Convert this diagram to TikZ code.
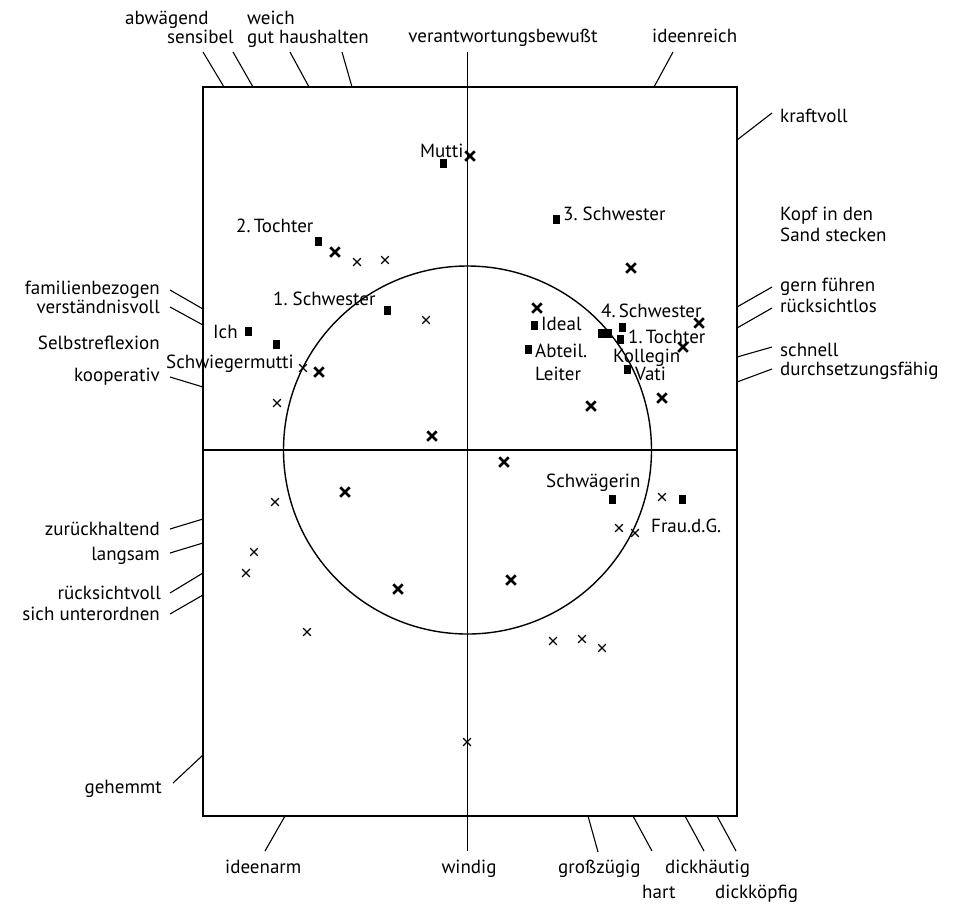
\documentclass[tikz,border=0pt]{standalone}
\usepackage{fontspec}
\setmainfont{PT Sans}
\usetikzlibrary{shapes.misc}
\begin{document}
\begin{tikzpicture}[x=1pt,y=-1pt,
  lbl/.style={inner sep=0pt, font=\fontsize{19}{19}\selectfont},
  lw/.style={lbl, anchor=base west},
  le/.style={lbl, anchor=base east},
  tick/.style={line width=1.1pt},
  frame/.style={line width=1.6pt},
  sq/.style={fill=black, minimum width=7pt, minimum height=9pt, inner sep=0pt},
  thinx/.style={cross out, draw, minimum size=6.5pt, inner sep=0pt, line width=1.2pt},
  boldx/.style={cross out, draw, minimum size=7pt, inner sep=0pt, line width=2.5pt}
]
\useasboundingbox (0,0) rectangle (956,903);

% frame, axes and circle
\draw[frame] (203,87) rectangle (737,816);
\coordinate (vtop) at (467.5,52);
\coordinate (vbot) at (467.5,851);
\coordinate (hleft) at (203,450);
\coordinate (hright) at (737,450);
\draw[frame] (vtop) -- (vbot);
\draw[frame] (hleft) -- (hright);
\coordinate (ctr) at (467.5,450);
\draw[line width=1.4pt] (ctr) circle[radius=184];

% top labels
\node[lw] (abw) at (125,24) {abwägend};
\node[lw] (sens) at (167,43) {sensibel};
\node[lw] (weich) at (247,24) {weich};
\node[lw] (guth) at (247,43) {gut haushalten};
\node[lbl, anchor=base] (verant) at (503,42) {verantwortungsbewußt};
\node[lw] (ideen) at (652,42) {ideenreich};

\coordinate (abwA) at (203,52);   \coordinate (abwB) at (224,87);
\coordinate (sensA) at (233,52);  \coordinate (sensB) at (253,87);
\coordinate (weichA) at (290,52); \coordinate (weichB) at (309,87);
\coordinate (guthA) at (342,52);  \coordinate (guthB) at (352,87);
\coordinate (ideenA) at (673,52); \coordinate (ideenB) at (654,87);
\draw[tick] (abwA) -- (abwB);
\draw[tick] (sensA) -- (sensB);
\draw[tick] (weichA) -- (weichB);
\draw[tick] (guthA) -- (guthB);
\draw[tick] (ideenA) -- (ideenB);

% right labels
\node[lw] (kraft) at (780,122) {kraftvoll};
\node[lw] (kopf) at (780,220) {Kopf in den};
\node[lw] (sand) at (780,241) {Sand stecken};
\node[lw] (gern) at (780,291) {gern führen};
\node[lw] (rlos) at (780,312) {rücksichtlos};
\node[lw] (schn) at (780,356) {schnell};
\node[lw] (durch) at (780,375) {durchsetzungsfähig};

\coordinate (kraftA) at (772,113); \coordinate (kraftB) at (737,140);
\coordinate (gernA) at (772,287);  \coordinate (gernB) at (737,307);
\coordinate (rlosA) at (772,308);  \coordinate (rlosB) at (737,328);
\coordinate (schnA) at (772,347);  \coordinate (schnB) at (737,357);
\coordinate (durchA) at (772,369); \coordinate (durchB) at (737,382);
\draw[tick] (kraftA) -- (kraftB);
\draw[tick] (gernA) -- (gernB);
\draw[tick] (rlosA) -- (rlosB);
\draw[tick] (schnA) -- (schnB);
\draw[tick] (durchA) -- (durchB);

% left labels
\node[le] (fam) at (160,294) {familienbezogen};
\node[le] (verst) at (160,313) {verständnisvoll};
\node[le] (selbst) at (160,349) {Selbstreflexion};
\node[le] (koop) at (160,381) {kooperativ};
\node[le] (zur) at (160,535) {zurückhaltend};
\node[le] (lang) at (160,560) {langsam};
\node[le] (rsv) at (161,599) {rücksichtvoll};
\node[le] (sich) at (160,620) {sich unterordnen};
\node[le] (geh) at (162,793) {gehemmt};

\coordinate (famA) at (170,290);  \coordinate (famB) at (203,309);
\coordinate (verstA) at (170,307);\coordinate (verstB) at (203,325);
\coordinate (koopA) at (170,377); \coordinate (koopB) at (203,387);
\coordinate (zurA) at (170,529);  \coordinate (zurB) at (203,519);
\coordinate (langA) at (170,553); \coordinate (langB) at (203,543);
\coordinate (rsvA) at (170,593);  \coordinate (rsvB) at (203,573);
\coordinate (sichA) at (170,614); \coordinate (sichB) at (203,595);
\coordinate (gehA) at (173,783);  \coordinate (gehB) at (203,755);
\draw[tick] (famA) -- (famB);
\draw[tick] (verstA) -- (verstB);
\draw[tick] (koopA) -- (koopB);
\draw[tick] (zurA) -- (zurB);
\draw[tick] (langA) -- (langB);
\draw[tick] (rsvA) -- (rsvB);
\draw[tick] (sichA) -- (sichB);
\draw[tick] (gehA) -- (gehB);

% bottom labels
\node[lw] (iarm) at (225,873) {ideenarm};
\node[lbl, anchor=base] (wind) at (469,873) {windig};
\node[lw] (gross) at (558,873) {großzügig};
\node[lw] (dickh) at (665,873) {dickhäutig};
\node[lw] (hart) at (642,898) {hart};
\node[lw] (dickk) at (715,898) {dickköpfig};

\coordinate (iarmA) at (265,851);  \coordinate (iarmB) at (285,816);
\coordinate (grossA) at (598,852); \coordinate (grossB) at (588,816);
\coordinate (hartA) at (652,851);  \coordinate (hartB) at (633,816);
\coordinate (dickhA) at (704,851); \coordinate (dickhB) at (685,816);
\coordinate (dickkA) at (736,851); \coordinate (dickkB) at (717,816);
\draw[tick] (iarmA) -- (iarmB);
\draw[tick] (grossA) -- (grossB);
\draw[tick] (hartA) -- (hartB);
\draw[tick] (dickhA) -- (dickhB);
\draw[tick] (dickkA) -- (dickkB);

% persons
\node[lw] (tMutti) at (420,157) {Mutti};
\node[sq] (sMutti) at (443,163) {};
\node[lw] (tTo2) at (236,232) {2.\,Tochter};
\node[sq] (sTo2) at (318,241) {};
\node[lw] (tSw3) at (563,220) {3.~Schwester};
\node[sq] (sSw3) at (556,219) {};
\node[lw] (tSw1) at (273,305) {1.~Schwester};
\node[sq] (sSw1) at (387,310) {};
\node[lw] (tIch) at (213,338) {Ich};
\node[sq] (sIch) at (248,331) {};
\node[lw] (tSchwm) at (166,368) {Schwiegermutti};
\node[sq] (sSchwm) at (276,344) {};
\node[lw] (tIdeal) at (541,330) {Ideal};
\node[sq] (sIdeal) at (534,325) {};
\node[lw] (tAbt) at (535,357) {Abteil.};
\node[lw] (tLeit) at (535,380) {Leiter};
\node[sq] (sAbt) at (528,349) {};
\node[sq] (sPairA) at (601,333) {};
\node[sq] (sPairB) at (608,333) {};
\node[lw] (tSw4) at (601,317) {4.\,Schwester};
\node[sq] (sSw4) at (622,327) {};
\node[lw] (tTo1) at (628,343) {1.\,Tochter};
\node[sq] (sTo1) at (620,339) {};
\node[lw] (tKoll) at (613,362) {Kollegin};
\node[lw] (tVati) at (635,380) {Vati};
\node[sq] (sVati) at (627,369) {};
\node[lw] (tSchwg) at (546,487) {Schwägerin};
\node[sq] (sSchwg) at (612,499) {};
\node[lw] (tFrau) at (651,532) {Frau.d.G.};
\node[sq] (sFrau) at (682,499) {};

% crosses, thin
\foreach \p [count=\i] in {(357,262),(385,260),(426,320),(303,368),(277,403),
  (275,502),(254,552),(246,573),(307,632),(553,641),(582,639),(602,648),
  (662,497),(619,528),(635,533),(467,742)}
  \node[thinx] (xt\i) at \p {};
% crosses, bold
\foreach \p [count=\i] in {(470,156),(335,252),(319,372),(432,436),(537,308),
  (631,268),(699,323),(683,347),(662,398),(591,406),(504,462),(345,492),
  (398,589),(511,580)}
  \node[boldx] (xb\i) at \p {};
\end{tikzpicture}
\end{document}
